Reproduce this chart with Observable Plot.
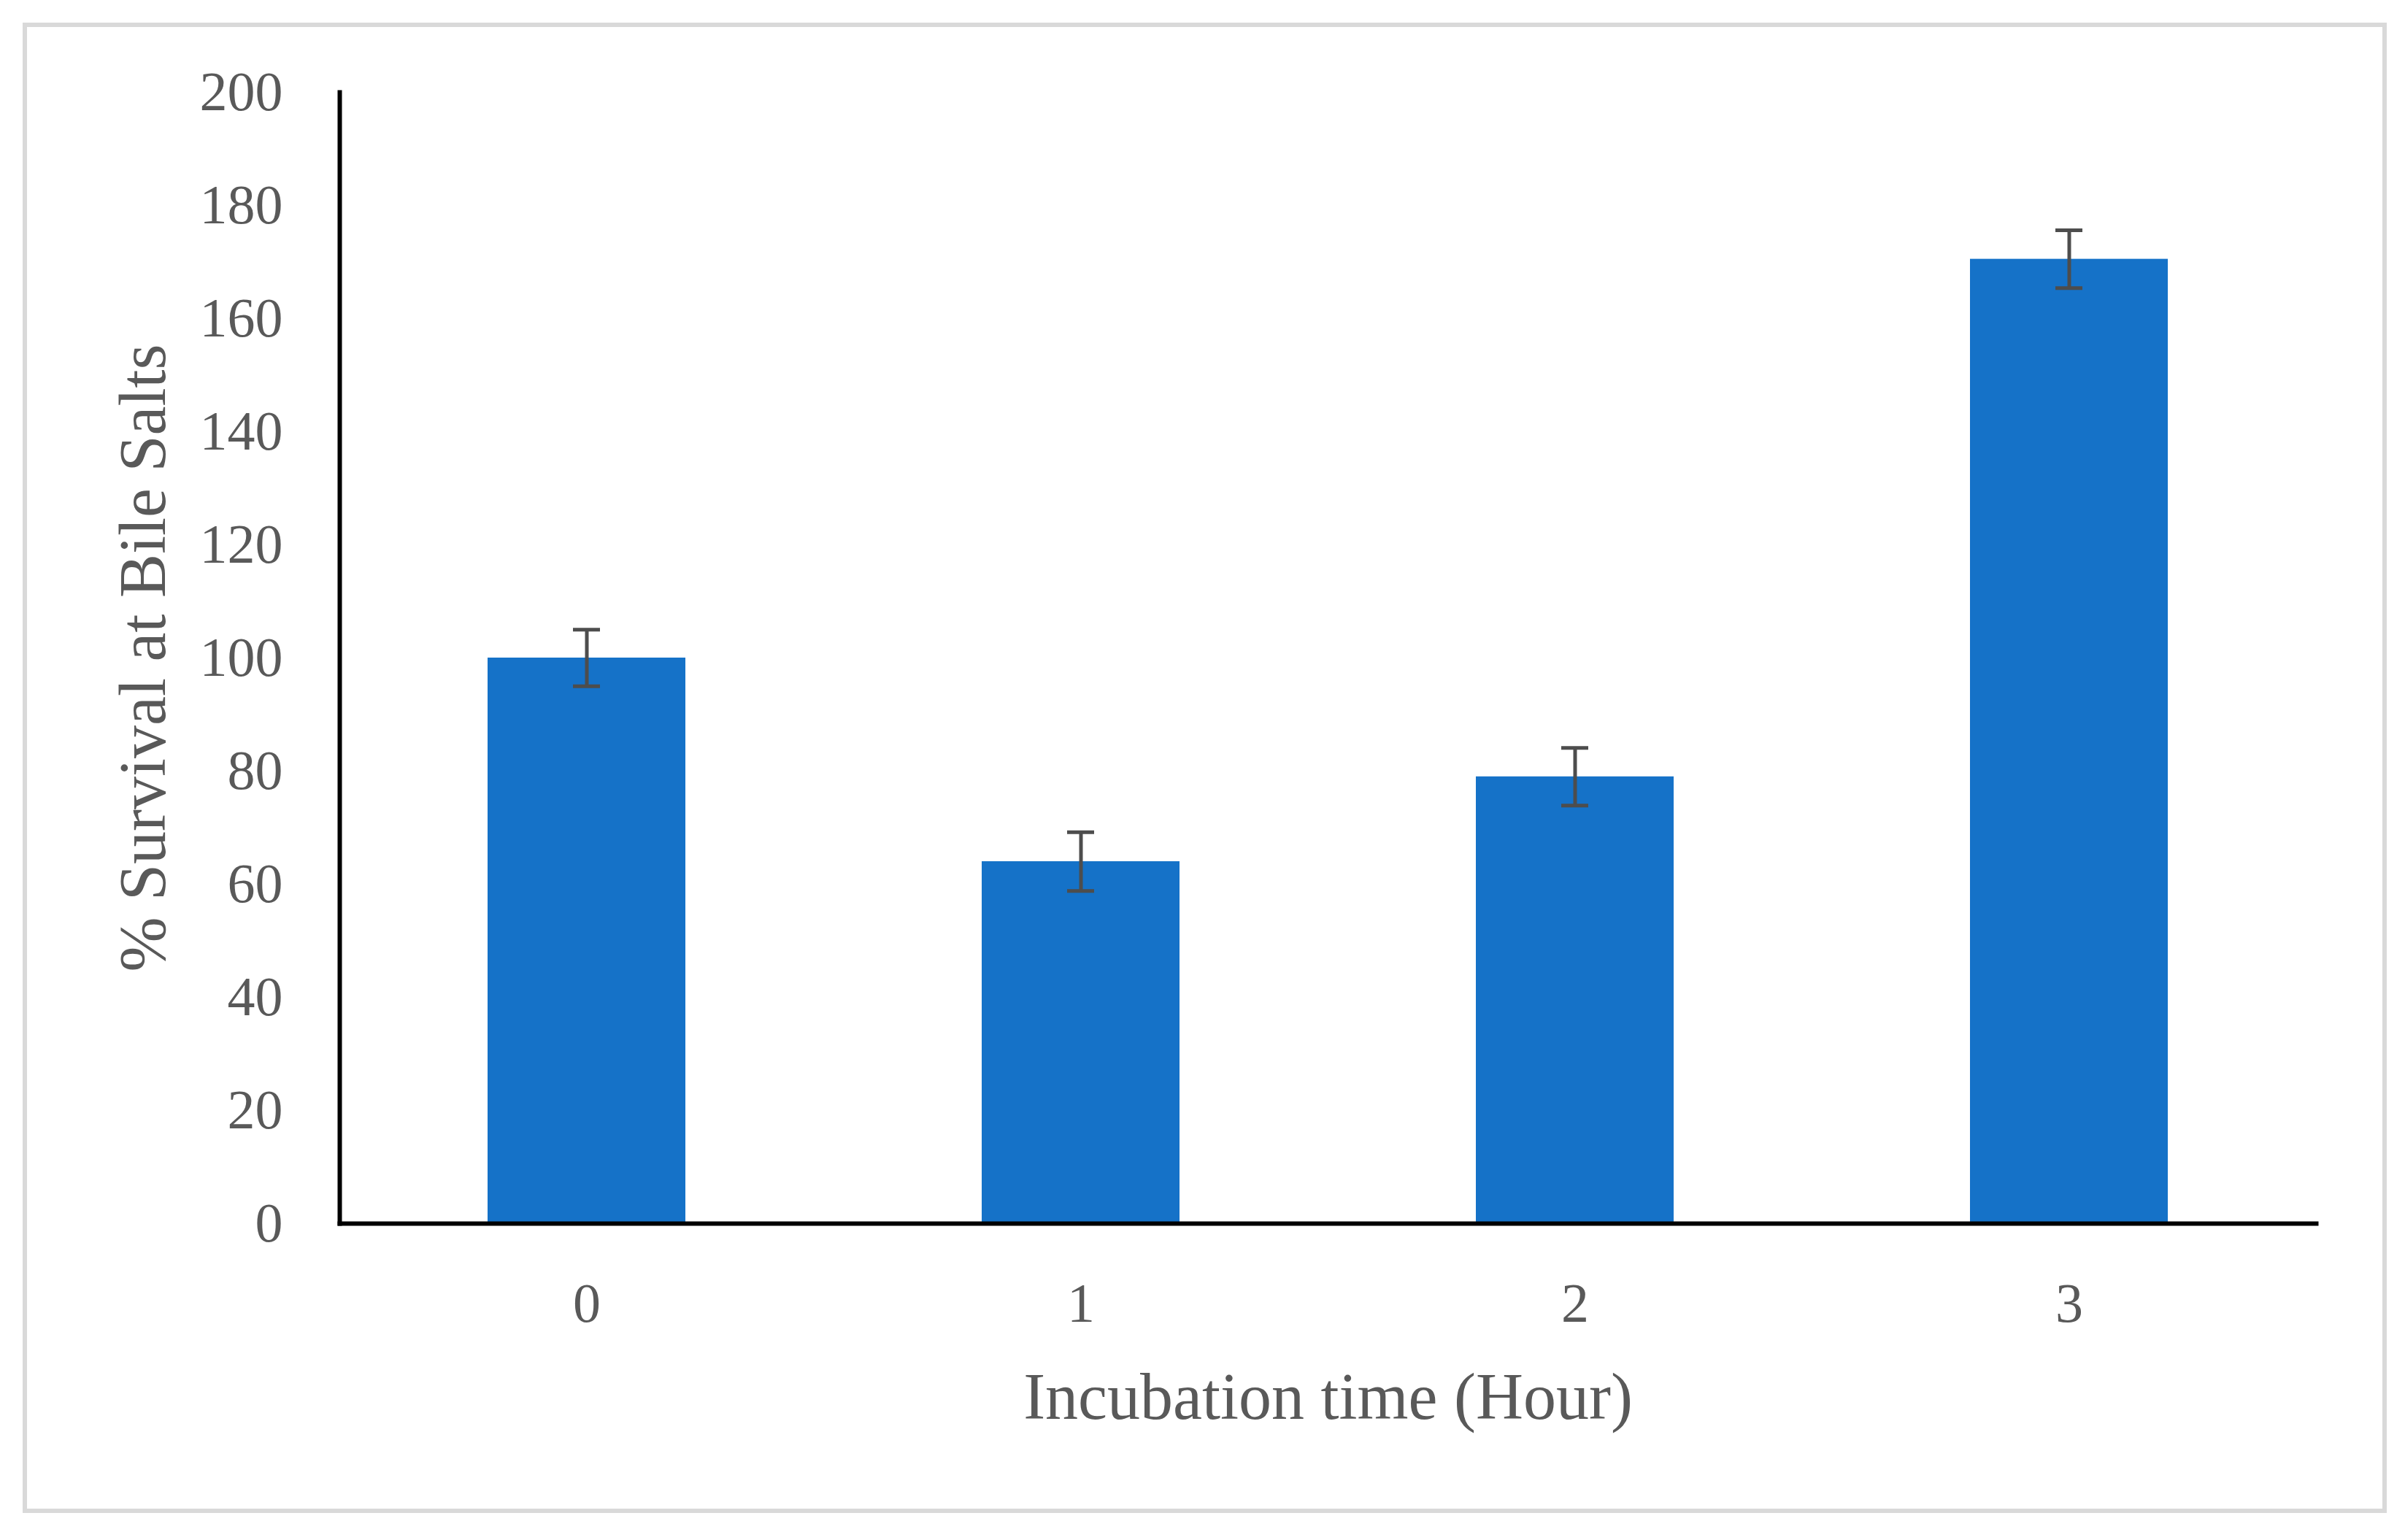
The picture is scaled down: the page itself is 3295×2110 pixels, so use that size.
<!DOCTYPE html>
<html><head><meta charset="utf-8">
<script src="https://cdn.jsdelivr.net/npm/d3@7"></script>
<script src="https://cdn.jsdelivr.net/npm/@observablehq/plot@0.6"></script>
<style>
html,body{margin:0;padding:0;background:#fff;}
#wrap{position:relative;width:3295px;height:2110px;overflow:hidden;background:#fff;}
#border{position:absolute;left:31px;top:31px;width:3239px;height:2042px;box-sizing:border-box;border:6px solid #d9d9d9;pointer-events:none;}
#chart{position:absolute;left:0;top:0;}
</style></head><body>
<div id="wrap"><div id="chart"></div><div id="border"></div></div>
<script>
const hours = ["0", "1", "2", "3"];
const survival = [100, 64, 79, 170.5];
const errorSD = [5, 5.2, 5.1, 5.1];
const yTicks = [0, 20, 40, 60, 80, 100, 120, 140, 160, 180, 200];
const xTitle = "Incubation time (Hour)";
const yTitle = "% Survival at Bile Salts";

const data = hours.map((h, i) => ({hour: h, value: survival[i], err: errorSD[i]}));
const errColor = "#4d4d4d";
const textColor = "#595959";

const chart = Plot.plot({
  width: 3295, height: 2110,
  marginLeft: 465, marginRight: 122, marginTop: 126, marginBottom: 434,
  style: {fontFamily: "'Liberation Serif', 'DejaVu Serif', serif", background: "transparent"},
  x: {domain: hours, paddingInner: 0.6, paddingOuter: 0.3, axis: null},
  y: {domain: [0, 200], axis: null},
  marks: [
    Plot.barY(data, {x: "hour", y: "value", fill: "#1572c8"}),
    Plot.ruleX(data, {x: "hour", y1: d => d.value - d.err, y2: d => d.value + d.err, stroke: errColor, strokeWidth: 5}),
    Plot.tickY(data, {x: "hour", y: d => d.value + d.err, stroke: errColor, strokeWidth: 5, insetLeft: 117, insetRight: 117}),
    Plot.tickY(data, {x: "hour", y: d => d.value - d.err, stroke: errColor, strokeWidth: 5, insetLeft: 117, insetRight: 117}),
    Plot.axisY({ticks: yTicks, tickSize: 0, tickPadding: 78, fontSize: 76, fill: textColor, label: null}),
    Plot.axisX({tickSize: 0, tickPadding: 81, fontSize: 76, fill: textColor, label: null}),
    Plot.frame({anchor: "left", stroke: "#000", strokeWidth: 6}),
    Plot.frame({anchor: "bottom", stroke: "#000", strokeWidth: 6}),
    Plot.text([xTitle], {frameAnchor: "bottom", textAnchor: "middle", lineAnchor: "bottom", dy: 267, fontSize: 90, fill: textColor}),
    Plot.text([yTitle], {frameAnchor: "left", textAnchor: "middle", rotate: -90, lineAnchor: "bottom", dx: -240, fontSize: 90, fill: textColor})
  ]
});
document.getElementById("chart").appendChild(chart);
</script>
</body></html>
